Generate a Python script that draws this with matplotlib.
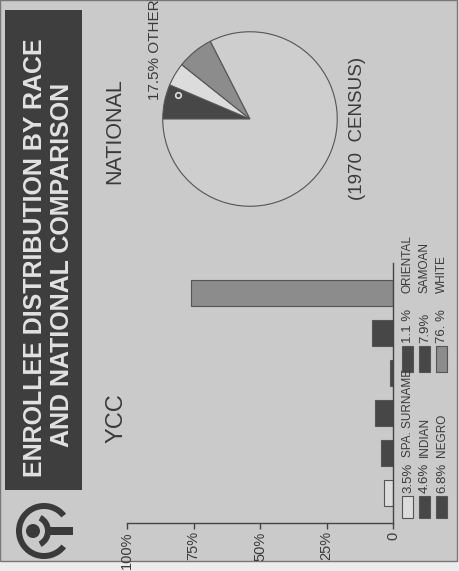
import numpy as np
import matplotlib
matplotlib.use('Agg')
import matplotlib.pyplot as plt
from matplotlib.patches import Rectangle, Wedge, Circle

# 데이터 (YCC 등록자 인종 분포)
ycc_labels = ['SPA. SURNAME', 'INDIAN', 'NEGRO', 'ORIENTAL', 'SAMOAN', 'WHITE']
ycc_values = [3.5, 4.6, 6.8, 1.1, 7.9, 76.1]
ycc_pct_text = ['3.5%', '4.6%', '6.8%', '1.1 %', '7.9%', '76. %']

# 전국 비교 (1970 census)
national_values = [6.4, 4.3, 6.8, 82.5]

tick_values = [0, 25, 50, 75, 100]
tick_labels = ['0', '25%', '50%', '75%', '100%']

# 색상
BG = '#cacaca'
DARK = '#474747'
MID = '#8c8c8c'
LIGHT = '#dcdcdc'
bar_colors = [LIGHT, DARK, DARK, DARK, DARK, MID]
pie_colors = [DARK, LIGHT, MID, '#cecece']

FONT = ['Liberation Sans', 'DejaVu Sans']
TXT = '#3a3a3a'

W, H = 460, 571
fig = plt.figure(figsize=(W / 100, H / 100), dpi=100)
fig.patch.set_facecolor('#ececec')

# 배경 레이어 (픽셀 좌표, 위에서 아래로)
bg = fig.add_axes([0, 0, 1, 1], zorder=0)
bg.set_xlim(0, W)
bg.set_ylim(H, 0)
bg.axis('off')
bg.add_patch(Rectangle((0, 0), 457, 561, facecolor=BG, edgecolor='#777777', lw=1.0))

# 제목 띠
bg.add_patch(Rectangle((5, 10), 77, 480, facecolor='#3e3e3e', edgecolor='none'))
bg.text(35, 258, 'ENROLLEE DISTRIBUTION BY RACE', rotation=90, ha='center', va='center',
        fontsize=18, fontweight='bold', color='#e2e2e2', family=FONT)
bg.text(62, 265, 'AND NATIONAL COMPARISON', rotation=90, ha='center', va='center',
        fontsize=18, fontweight='bold', color='#e2e2e2', family=FONT)

# 로고
cx, cy = 44, 531
bg.add_patch(Wedge((cx, cy), 28, 38, 322, width=6, facecolor='#3a3a3a', edgecolor='none'))
bg.add_patch(Circle((33, cy), 7, facecolor='#3a3a3a', edgecolor='none'))
bg.add_patch(Wedge((33, cy), 18, -62, 62, width=6, facecolor='#3a3a3a', edgecolor='none'))
bg.add_patch(Rectangle((48, cy - 4), 25, 8, facecolor='#3a3a3a', edgecolor='none'))

# 부제목 텍스트
bg.text(117, 418, 'YCC', rotation=90, ha='center', va='center', fontsize=17,
        color=TXT, family=FONT)
bg.text(115, 131, 'NATIONAL', rotation=90, ha='center', va='center', fontsize=15.5,
        color=TXT, family=FONT)
bg.text(358, 128, '(1970  CENSUS)', rotation=90, ha='center', va='center', fontsize=13.5,
        color=TXT, family=FONT)
bg.text(155, 100, '17.5% OTHER', rotation=90, ha='center', va='bottom', fontsize=11,
        color=TXT, family=FONT)
bg.text(280, 108, '82.5% WHITE', rotation=90, ha='center', va='center', fontsize=11.5,
        color=TXT, family=FONT)

# 범례 (두 그룹, 각 3줄)
sw_tops = [496, 346]
sw_lens = [22, 26]
lab_starts = [457, 293]
for i, (lab, pct, col) in enumerate(zip(ycc_labels, ycc_pct_text, bar_colors)):
    g, r = divmod(i, 3)
    x = 408 + 17 * r
    bg.add_patch(Rectangle((x - 5.5, sw_tops[g]), 11, sw_lens[g], facecolor=col,
                           edgecolor='#555555', lw=0.8))
    bg.text(x, sw_tops[g] - 3, pct, rotation=90, ha='center', va='bottom', fontsize=9.5,
            color=TXT, family=FONT)
    bg.text(x, lab_starts[g], lab, rotation=90, ha='center', va='bottom', fontsize=8.5,
            color=TXT, family=FONT)

# 막대 그래프 (회전된 형태: 값 축은 가로, 0이 오른쪽)
ax = fig.add_axes([127 / W, (H - 523) / H, (393 - 127) / W, (523 - 263) / H], zorder=2)
ax.patch.set_alpha(0)
pos = np.arange(len(ycc_values))
ax.barh(pos, ycc_values, height=0.67, color=bar_colors, edgecolor='#555555', lw=0.8)
ax.set_xlim(100, 0)
ax.set_ylim(-0.75, 5.75)
ax.set_yticks([])
ax.set_xticks(tick_values)
ax.set_xticklabels(tick_labels, rotation=90, fontsize=10.5, color=TXT, family=FONT)
ax.tick_params(axis='x', length=4, width=1, color='#444444', pad=2)
for s in ['top', 'left']:
    ax.spines[s].set_visible(False)
for s in ['bottom', 'right']:
    ax.spines[s].set_color('#444444')
    ax.spines[s].set_linewidth(1.0)

# 원 그래프
pax = fig.add_axes([161 / W, (H - 208) / H, 178 / W, 178 / H], zorder=2)
pax.pie(national_values, colors=pie_colors, startangle=180, counterclock=False,
        wedgeprops=dict(edgecolor='#555555', linewidth=0.8))
pax.plot([-0.82], [0.27], 'o', ms=4, mfc=DARK, mec='#e0e0e0', mew=1.2)
pax.set_xlim(-1.02, 1.02)
pax.set_ylim(-1.02, 1.02)
pax.set_aspect('equal')
pax.axis('off')

plt.savefig('out.png', dpi=100)
